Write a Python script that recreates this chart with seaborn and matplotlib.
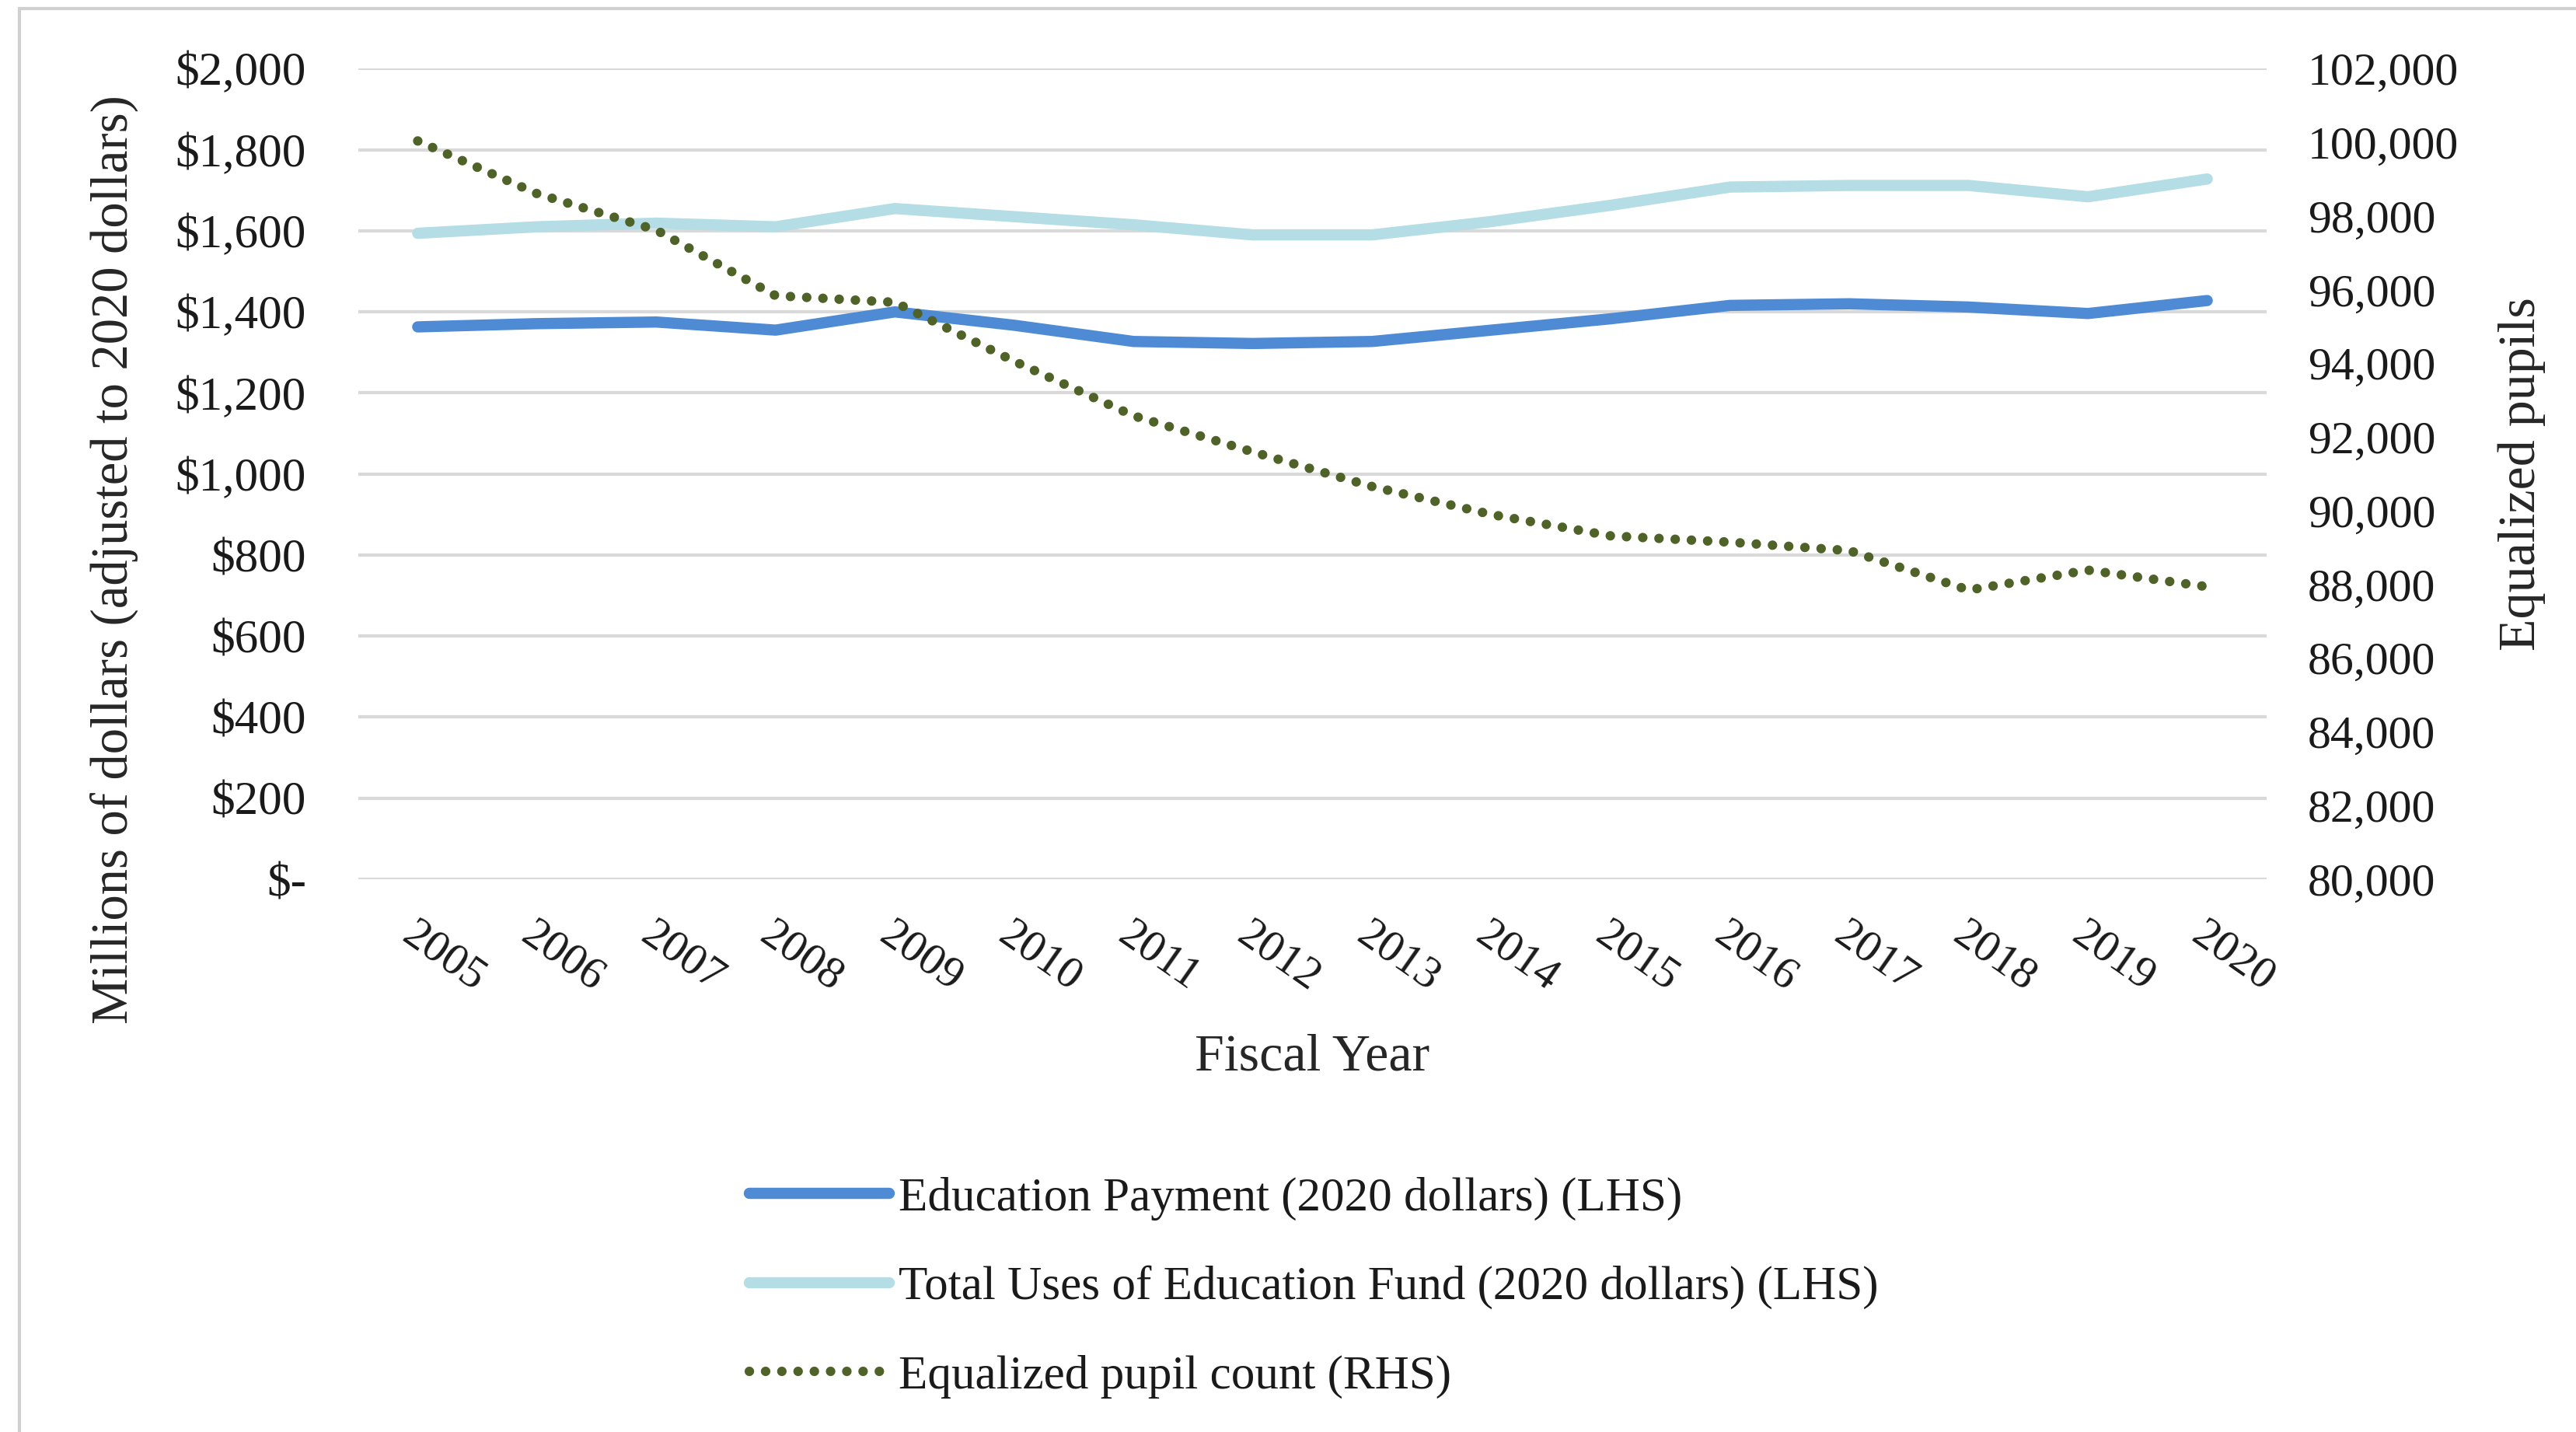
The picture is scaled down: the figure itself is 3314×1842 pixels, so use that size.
import matplotlib
matplotlib.use("Agg")
import matplotlib.pyplot as plt
from matplotlib.patches import Rectangle
from matplotlib.ticker import FixedLocator, FixedFormatter
import seaborn as sns
import pandas as pd

# ---- data ----
years = ["2005", "2006", "2007", "2008", "2009", "2010", "2011", "2012",
         "2013", "2014", "2015", "2016", "2017", "2018", "2019", "2020"]
education_payment = [1363, 1371, 1375, 1355, 1400, 1367, 1327, 1322,
                     1327, 1355, 1383, 1416, 1420, 1412, 1396, 1428]
total_uses = [1594, 1610, 1619, 1610, 1655, 1635, 1615, 1590,
              1590, 1623, 1663, 1708, 1712, 1712, 1684, 1728]
pupil_count = [100040, 98610, 97620, 95840, 95660, 94060, 92580, 91600,
               90660, 89900, 89320, 89150, 88920, 87850, 88390, 87940]

left_ticks = [0, 200, 400, 600, 800, 1000, 1200, 1400, 1600, 1800, 2000]
left_tick_labels = ["$-", "$200", "$400", "$600", "$800", "$1,000", "$1,200",
                    "$1,400", "$1,600", "$1,800", "$2,000"]
right_ticks = [80000, 82000, 84000, 86000, 88000, 90000, 92000, 94000,
               96000, 98000, 100000, 102000]
right_tick_labels = ["80,000", "82,000", "84,000", "86,000", "88,000", "90,000",
                     "92,000", "94,000", "96,000", "98,000", "100,000", "102,000"]

label_pay = "Education Payment (2020 dollars) (LHS)"
label_total = "Total Uses of Education Fund (2020 dollars) (LHS)"
label_pupil = "Equalized pupil count (RHS)"

df = pd.DataFrame({
    "idx": list(range(len(years))),
    "year": years,
    "pay": education_payment,
    "total": total_uses,
    "pupils": pupil_count,
})

# ---- style ----
sns.set_style("white")
serif = ["Liberation Serif", "DejaVu Serif"]
plt.rcParams["font.family"] = serif
plt.rcParams["text.color"] = "#1a1a1a"

fig = plt.figure(figsize=(16.57, 9.21), dpi=200)
ax = fig.add_axes([0.139, 0.386, 0.741, 0.566])
ax2 = ax.twinx()

c_pay = "#4F8AD5"
c_total = "#B4DDE6"
c_pupil = "#4F6228"

sns.lineplot(data=df, x="idx", y="total", ax=ax, color=c_total, linewidth=5.2,
             label=label_total, solid_capstyle="round", solid_joinstyle="round")
sns.lineplot(data=df, x="idx", y="pay", ax=ax, color=c_pay, linewidth=5.2,
             label=label_pay, solid_capstyle="round", solid_joinstyle="round")
sns.lineplot(data=df, x="idx", y="pupils", ax=ax2, color=c_pupil, linewidth=4.4,
             linestyle=(0, (0.01, 1.7)), dash_capstyle="round",
             label=label_pupil)

for a in (ax, ax2):
    if a.get_legend() is not None:
        a.get_legend().remove()
    for s in a.spines.values():
        s.set_visible(False)

ax.set_xlim(-0.5, len(years) - 0.5)
ax.set_ylim(0, 2000)
ax2.set_ylim(80000, 102000)

ax.yaxis.set_major_locator(FixedLocator(left_ticks))
ax.yaxis.set_major_formatter(FixedFormatter(left_tick_labels))
ax2.yaxis.set_major_locator(FixedLocator(right_ticks))
ax2.yaxis.set_major_formatter(FixedFormatter(right_tick_labels))

ax.set_xticks(df["idx"])
ax.set_xticklabels(years, rotation=-35, ha="left", va="top",
                   rotation_mode="anchor")

ax.grid(axis="y", color="#D9D9D9", linewidth=1.5)
ax.grid(axis="x", visible=False)
ax2.grid(False)
ax.set_axisbelow(True)

ax.tick_params(axis="y", length=0, pad=24, labelsize=22, labelcolor="#1a1a1a")
ax.tick_params(axis="x", length=0, pad=16, labelsize=21, labelcolor="#1a1a1a")
ax2.tick_params(axis="y", length=0, pad=19, labelsize=21.5, labelcolor="#1a1a1a")

ax.set_xlabel("Fiscal Year", fontsize=24.5, labelpad=16)
ax.set_ylabel("Millions of dollars (adjusted to 2020 dollars)", fontsize=24,
              labelpad=14)
ax.yaxis.set_label_coords(-0.115, 0.395)
ax2.set_ylabel("Equalized pupils", fontsize=24.5, labelpad=18)

h1, l1 = ax.get_legend_handles_labels()
h2, l2 = ax2.get_legend_handles_labels()
order = {label_pay: 0, label_total: 1, label_pupil: 2}
pairs = sorted(zip(h1 + h2, l1 + l2), key=lambda p: order[p[1]])
fig.legend([p[0] for p in pairs], [p[1] for p in pairs],
           loc="upper center", bbox_to_anchor=(0.51, 0.208),
           frameon=False, fontsize=22, handlelength=2.95,
           handletextpad=0.2, labelspacing=0.95)

fig.patches.append(Rectangle((12 / 1568, -0.05), 1.2, 1 - 5 / 872 + 0.05,
                             transform=fig.transFigure, fill=False,
                             edgecolor="#D0D0D0", linewidth=1.5))

fig.savefig("out.png", dpi=200, facecolor="white")
